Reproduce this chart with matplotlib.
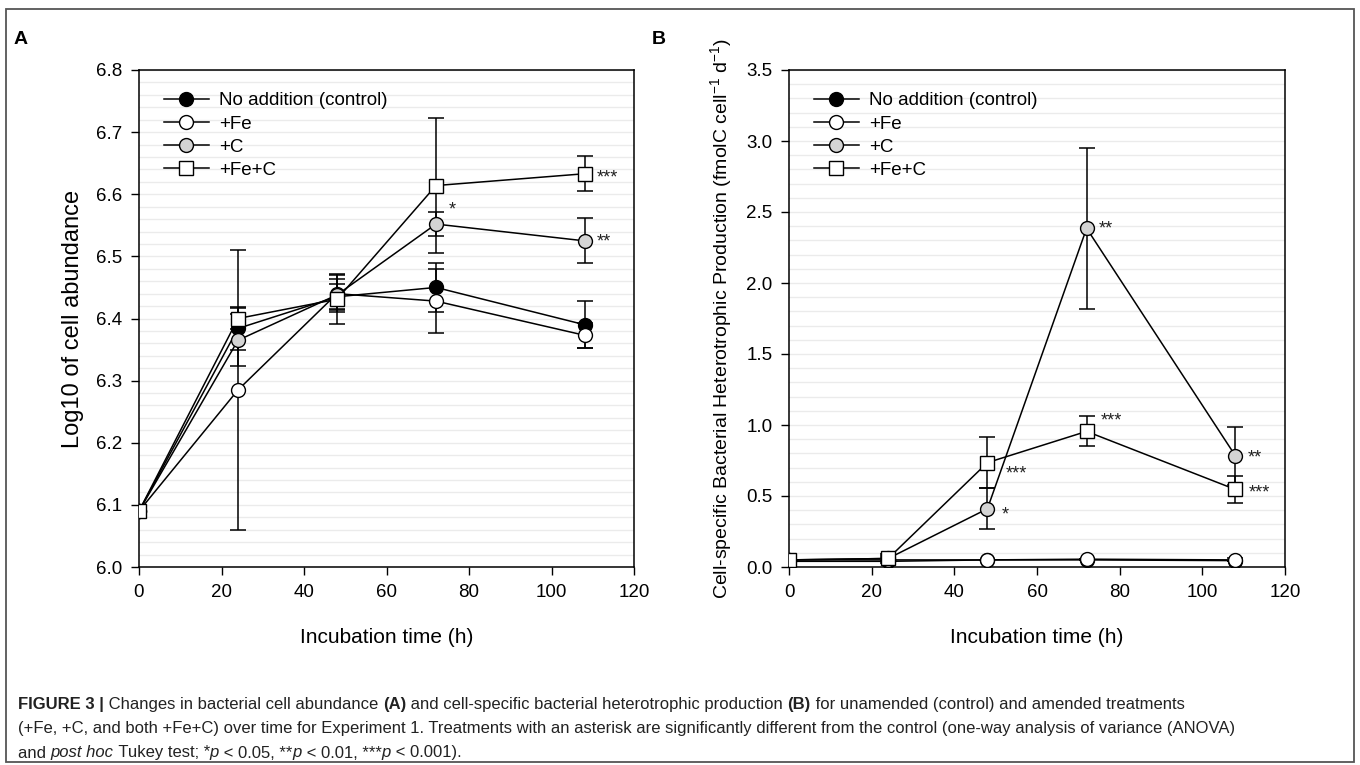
import matplotlib
matplotlib.use("Agg")
import matplotlib.pyplot as plt
from matplotlib.patches import Rectangle
from matplotlib.ticker import MultipleLocator
import numpy as np

plt.rcParams['font.family'] = ['Liberation Sans', 'DejaVu Sans']
plt.rcParams['mathtext.fontset'] = 'custom'
plt.rcParams['mathtext.rm'] = 'Liberation Sans'
plt.rcParams['mathtext.default'] = 'regular'

# ---------------- data ----------------
hours = [0, 24, 48, 72, 108]
labels = ["No addition (control)", "+Fe", "+C", "+Fe+C"]

# Panel A: log10 cell abundance
a_control = [6.09, 6.384, 6.435, 6.450, 6.390]
a_fe      = [6.09, 6.285, 6.440, 6.428, 6.373]
a_c       = [6.09, 6.365, 6.438, 6.552, 6.525]
a_fec     = [6.09, 6.400, 6.431, 6.614, 6.633]
a_control_err = [0.0, 0.035, 0.020, 0.040, 0.038]
a_fe_err      = [0.0, 0.225, 0.030, 0.052, 0.020]
a_c_err       = [0.0, 0.042, 0.025, 0.020, 0.036]
a_fec_err     = [0.0, 0.017, 0.040, 0.109, 0.028]

# Panel B: cell-specific bacterial heterotrophic production
b_control = [0.04, 0.04, 0.05, 0.05, 0.045]
b_fe      = [0.05, 0.05, 0.05, 0.055, 0.05]
b_c       = [0.05, 0.06, 0.41, 2.385, 0.783]
b_fec     = [0.05, 0.06, 0.735, 0.955, 0.546]
b_control_err = [0.0, 0.0, 0.0, 0.0, 0.0]
b_fe_err      = [0.0, 0.01, 0.0, 0.0, 0.01]
b_c_err       = [0.0, 0.02, 0.145, 0.565, 0.205]
b_fec_err     = [0.0, 0.03, 0.178, 0.105, 0.094]

# significance labels: (series index, hour index, label)
a_sig = [(2, 3, "*"), (2, 4, "**"), (3, 4, "***")]
b_sig = [(2, 3, "**"), (3, 3, "***"), (3, 2, "***"), (2, 2, "*"), (2, 4, "**"), (3, 4, "***")]

# ---------------- styles ----------------
faces = ["black", "white", "#d4d4d4", "white"]
marks = ["o", "o", "o", "s"]
msizes = [10, 10, 10, 9.5]

fig = plt.figure(figsize=(13.6, 7.65), dpi=100)
fig.patches.append(Rectangle((6/1360, 1-762/765), 1348/1360, 753/765,
                             transform=fig.transFigure, fill=False,
                             edgecolor="#555555", lw=1.3))

axA = fig.add_axes([139/1360, 1-567/765, 495/1360, 497/765])
axB = fig.add_axes([789/1360, 1-567/765, 496/1360, 497/765])

def draw(ax, series, errs, sig, offsets):
    ax.set_axisbelow(True)
    for i, (ys, es) in enumerate(zip(series, errs)):
        ax.errorbar(hours, ys, yerr=es, fmt='none', ecolor='black',
                    elinewidth=1.1, capsize=6, capthick=1.1, zorder=2)
    for i, ys in enumerate(series):
        ax.plot(hours, ys, color='black', lw=1.1, marker=marks[i],
                markersize=msizes[i], markerfacecolor=faces[i],
                markeredgecolor='black', markeredgewidth=1.0,
                label=labels[i], zorder=3 + i)
    for (si, hi, txt), (dx, dy) in zip(sig, offsets):
        ax.annotate(txt, (hours[hi], series[si][hi]), xytext=(dx, dy),
                    textcoords='offset pixels', ha='left', va='center',
                    fontsize=13, color='#222222', zorder=10)
    ax.set_xlim(0, 120)
    ax.xaxis.set_major_locator(MultipleLocator(20))
    ax.tick_params(axis='both', which='major', direction='out', length=6,
                   width=1, labelsize=13.5, pad=6, top=False, right=False)
    ax.tick_params(axis='y', which='minor', length=0)
    ax.grid(True, which='both', axis='y', color='#ebebeb', lw=1.0)
    for s in ax.spines.values():
        s.set_linewidth(1.1)
    ax.set_xlabel("Incubation time (h)", fontsize=15, labelpad=20)
    leg = ax.legend(loc='upper left', bbox_to_anchor=(0.05, 0.955),
                    frameon=False, fontsize=13.5, handlelength=2.4,
                    handletextpad=0.55, labelspacing=0.32, borderpad=0,
                    borderaxespad=0)
    return leg

draw(axA, [a_control, a_fe, a_c, a_fec],
     [a_control_err, a_fe_err, a_c_err, a_fec_err], a_sig,
     [(13, 14), (12, -1), (12, -4)])
axA.set_ylim(6.0, 6.8)
axA.yaxis.set_major_locator(MultipleLocator(0.1))
axA.yaxis.set_minor_locator(MultipleLocator(0.02))
axA.yaxis.set_major_formatter(matplotlib.ticker.FormatStrFormatter('%.1f'))
axA.set_ylabel("Log10 of cell abundance", fontsize=17, labelpad=9)

draw(axB, [b_control, b_fe, b_c, b_fec],
     [b_control_err, b_fe_err, b_c_err, b_fec_err], b_sig,
     [(12, -1), (14, 10), (18, -11), (14, -6), (12, -2), (13, -4)])
axB.set_ylim(0.0, 3.5)
axB.yaxis.set_major_locator(MultipleLocator(0.5))
axB.yaxis.set_minor_locator(MultipleLocator(0.1))
axB.yaxis.set_major_formatter(matplotlib.ticker.FormatStrFormatter('%.1f'))
axB.set_ylabel("Cell-specific Bacterial Heterotrophic Production (fmolC cell$^{-1}$ d$^{-1}$)",
               fontsize=14, labelpad=9)

fig.text(14/1360, 1-40/765, "A", fontsize=14, fontweight='bold', va='center', ha='left')
fig.text(652/1360, 1-40/765, "B", fontsize=14, fontweight='bold', va='center', ha='left')

# ---------------- caption ----------------
cap_family = ['Liberation Sans Narrow', 'Liberation Sans', 'DejaVu Sans']
caption = [
    [("FIGURE 3 |", 'bold', 'normal'), (" Changes in bacterial cell abundance ", 'normal', 'normal'),
     ("(A)", 'bold', 'normal'), (" and cell-specific bacterial heterotrophic production ", 'normal', 'normal'),
     ("(B)", 'bold', 'normal'), (" for unamended (control) and amended treatments", 'normal', 'normal')],
    [("(+Fe, +C, and both +Fe+C) over time for Experiment 1. Treatments with an asterisk are "
      "significantly different from the control (one-way analysis of variance (ANOVA)", 'normal', 'normal')],
    [("and ", 'normal', 'normal'), ("post hoc", 'normal', 'italic'), (" Tukey test; *", 'normal', 'normal'),
     ("p", 'normal', 'italic'), (" < 0.05, **", 'normal', 'normal'), ("p", 'normal', 'italic'),
     (" < 0.01, ***", 'normal', 'normal'), ("p", 'normal', 'italic'), (" < 0.001).", 'normal', 'normal')],
]
cap_y = [705, 729, 753]
renderer = fig.canvas.get_renderer()
for line, yp in zip(caption, cap_y):
    x = 18
    for txt, wt, st in line:
        t = fig.text(x/1360, 1-yp/765, txt, fontsize=12, fontweight=wt, fontstyle=st,
                     family=cap_family, color='#222222', va='center', ha='left')
        bb = t.get_window_extent(renderer=renderer)
        x = bb.x1

fig.savefig("out.png", dpi=100)
